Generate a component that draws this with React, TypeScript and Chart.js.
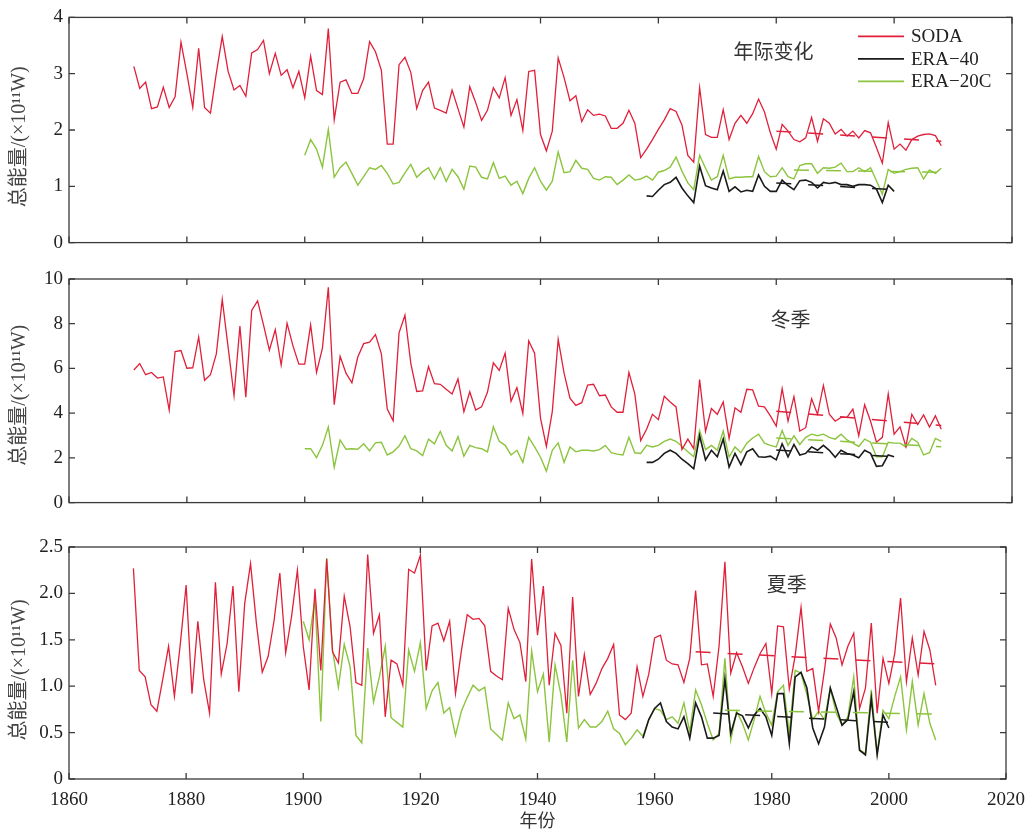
import React, { useEffect, useRef } from 'react';
import { Chart, registerables } from 'chart.js';

Chart.register(...registerables);

// ---------- data ----------
const SODA_START = 1871;
const ERA20C_START = 1900;
const ERA40_START = 1958;

const X_MIN = 1860;
const X_MAX = 2020;
const X_STEP = 20;

const SERIES_NAMES = ['SODA', 'ERA−40', 'ERA−20C'];
const PANEL_LABELS = ['年际变化', '冬季', '夏季'];
const Y_TITLE = '总能量/(×10¹¹W)';
const X_TITLE = '年份';
const Y_MAX = [4, 10, 2.5];
const Y_STEP = [1, 2, 0.5];

const SODA_ANNUAL = [
  3.13, 2.74, 2.85, 2.38, 2.41, 2.76, 2.40, 2.59, 3.56, 3.00,
  2.40, 3.45, 2.40, 2.30, 3.01, 3.66, 3.04, 2.71, 2.79, 2.60,
  3.37, 3.43, 3.59, 3.00, 3.36, 2.97, 3.07, 2.75, 3.04, 2.57,
  3.31, 2.70, 2.63, 3.80, 2.18, 2.85, 2.89, 2.65, 2.65, 2.91,
  3.57, 3.39, 3.06, 1.75, 1.75, 3.16, 3.29, 3.02, 2.38, 2.70,
  2.85, 2.39, 2.35, 2.30, 2.71, 2.38, 2.05, 2.77, 2.49, 2.17,
  2.35, 2.75, 2.57, 2.93, 2.26, 2.54, 1.99, 3.04, 3.06, 1.92,
  1.63, 1.98, 3.28, 2.93, 2.52, 2.61, 2.15, 2.36, 2.26, 2.28,
  2.25, 2.03, 2.03, 2.12, 2.35, 2.12, 1.51, 1.66, 1.83, 2.01,
  2.18, 2.38, 2.33, 2.09, 1.55, 1.43, 2.75, 1.92, 1.87, 1.87,
  2.36, 1.83, 2.12, 2.26, 2.12, 2.29, 2.55, 2.32, 1.95, 1.66,
  2.10, 1.98, 1.83, 1.79, 1.86, 2.22, 1.80, 2.20, 2.12, 1.93,
  2.01, 1.89, 1.98, 1.86, 1.99, 1.95, 1.69, 1.41, 2.13, 1.66,
  1.75, 1.64, 1.83, 1.89, 1.92, 1.93, 1.90, 1.72,
];
const ERA20C_ANNUAL = [
  1.55, 1.83, 1.66, 1.34, 2.01, 1.16, 1.33, 1.43, 1.23, 1.02,
  1.17, 1.33, 1.30, 1.37, 1.23, 1.04, 1.07, 1.24, 1.39, 1.16,
  1.26, 1.33, 1.13, 1.33, 1.09, 1.30, 1.17, 0.95, 1.36, 1.34,
  1.16, 1.13, 1.42, 1.14, 1.18, 1.02, 1.09, 0.87, 1.14, 1.33,
  1.09, 0.93, 1.09, 1.61, 1.24, 1.26, 1.46, 1.32, 1.30, 1.14,
  1.11, 1.17, 1.16, 1.03, 1.11, 1.20, 1.11, 1.13, 1.18, 1.11,
  1.25, 1.28, 1.34, 1.52, 1.27, 1.06, 0.94, 1.55, 1.32, 1.11,
  1.17, 1.55, 1.13, 1.16, 1.16, 1.17, 1.17, 1.53, 1.26, 1.17,
  1.18, 1.33, 1.17, 1.13, 1.37, 1.40, 1.40, 1.23, 1.33, 1.32,
  1.34, 1.41, 1.26, 1.26, 1.33, 1.26, 1.33, 1.10, 0.86, 1.30,
  1.23, 1.26, 1.30, 1.32, 1.33, 1.13, 1.29, 1.23, 1.32,
];
const ERA40_ANNUAL = [
  0.83, 0.82, 0.93, 1.03, 1.07, 1.16, 0.97, 0.83, 0.71, 1.36,
  1.01, 0.97, 0.94, 1.27, 0.91, 0.99, 0.90, 0.93, 0.91, 1.20,
  1.00, 0.91, 0.91, 1.11, 1.01, 0.94, 1.10, 1.11, 1.07, 0.97,
  1.07, 1.05, 1.07, 1.03, 1.03, 1.00, 1.03, 1.03, 1.02, 0.95,
  0.71, 1.02, 0.91,
];

const SODA_WINTER = [
  5.93, 6.22, 5.72, 5.82, 5.57, 5.62, 4.14, 6.75, 6.80, 6.01,
  6.03, 7.41, 5.47, 5.72, 6.65, 9.09, 6.94, 4.78, 7.90, 4.71,
  8.59, 9.02, 7.95, 6.82, 7.73, 6.15, 8.02, 7.01, 6.19, 6.19,
  7.95, 5.82, 6.91, 9.63, 4.38, 6.54, 5.79, 5.36, 6.51, 7.11,
  7.18, 7.51, 6.65, 4.18, 3.66, 7.59, 8.38, 6.22, 4.97, 5.00,
  6.08, 5.32, 5.29, 5.07, 4.86, 5.53, 4.07, 4.96, 4.14, 4.28,
  4.93, 6.25, 5.91, 6.68, 4.53, 5.14, 3.99, 7.23, 6.68, 3.78,
  2.51, 4.07, 7.30, 5.79, 4.67, 4.35, 4.47, 5.26, 5.29, 4.78,
  4.81, 4.28, 4.04, 4.04, 5.82, 4.86, 2.77, 3.28, 3.95, 3.71,
  4.76, 4.50, 4.28, 2.37, 2.84, 2.41, 5.50, 3.18, 4.21, 3.95,
  4.50, 2.87, 4.24, 4.04, 5.07, 5.04, 4.31, 4.28, 3.88, 3.42,
  5.10, 3.64, 4.74, 3.20, 3.35, 4.64, 3.95, 5.24, 3.95, 3.64,
  3.81, 3.81, 4.18, 2.99, 4.38, 3.64, 2.70, 2.92, 4.86, 3.06,
  3.39, 2.51, 3.95, 3.49, 3.92, 3.38, 3.88, 3.28,
];
const ERA20C_WINTER = [
  2.41, 2.41, 2.01, 2.56, 3.38, 1.58, 2.80, 2.39, 2.41, 2.39,
  2.63, 2.31, 2.67, 2.70, 2.13, 2.27, 2.53, 2.99, 2.41, 2.31,
  2.10, 2.84, 2.63, 3.18, 2.56, 2.31, 2.95, 2.08, 2.56, 2.46,
  2.41, 2.27, 3.39, 2.74, 2.56, 2.13, 2.34, 1.80, 2.92, 2.49,
  2.03, 1.41, 2.34, 2.67, 1.80, 2.49, 2.27, 2.34, 2.34, 2.31,
  2.37, 2.56, 2.23, 2.17, 2.13, 2.92, 2.23, 2.20, 2.56, 2.49,
  2.56, 2.74, 2.84, 2.74, 2.51, 2.27, 2.05, 3.23, 2.37, 2.56,
  2.34, 3.20, 2.03, 2.49, 2.23, 2.66, 2.89, 3.06, 2.66, 2.56,
  2.49, 3.23, 2.56, 2.99, 2.60, 2.92, 3.06, 2.99, 3.06, 2.92,
  2.84, 3.06, 2.80, 2.66, 2.51, 2.84, 2.70, 2.05, 2.05, 2.70,
  2.66, 2.66, 2.49, 2.87, 2.70, 2.13, 2.23, 2.87, 2.74,
];
const ERA40_WINTER = [
  1.80, 1.80, 1.94, 2.20, 2.34, 2.20, 1.94, 1.74, 1.51, 2.99,
  1.91, 2.34, 2.05, 2.84, 1.59, 2.20, 1.70, 2.27, 2.41, 2.05,
  2.03, 2.08, 1.91, 2.63, 2.05, 2.60, 2.13, 2.20, 2.49, 2.34,
  2.56, 2.34, 2.03, 2.34, 2.20, 2.13, 2.01, 2.34, 2.20, 1.62,
  1.65, 2.13, 2.05,
];

const SODA_SUMMER = [
  2.27, 1.17, 1.10, 0.80, 0.73, 1.07, 1.43, 0.89, 1.45, 2.09,
  0.92, 1.70, 1.07, 0.71, 2.12, 1.13, 1.46, 2.08, 0.94, 1.89,
  2.32, 1.68, 1.15, 1.32, 1.70, 2.22, 1.36, 1.75, 2.25, 1.43,
  0.96, 2.05, 1.17, 2.37, 1.37, 1.25, 1.97, 1.64, 1.04, 1.01,
  2.42, 1.57, 1.77, 0.67, 1.28, 1.24, 1.01, 2.26, 2.22, 2.41,
  1.17, 1.65, 1.68, 1.49, 1.70, 0.92, 1.38, 1.77, 1.72, 1.73,
  1.65, 1.16, 1.11, 1.07, 1.84, 1.61, 1.47, 1.05, 2.37, 1.55,
  2.08, 1.01, 1.57, 1.44, 0.71, 1.96, 0.89, 1.34, 0.91, 1.03,
  1.19, 1.30, 1.45, 0.69, 0.64, 0.71, 1.21, 0.89, 1.13, 1.52,
  1.55, 1.28, 1.24, 1.23, 1.04, 1.30, 2.03, 1.23, 1.24, 0.89,
  1.43, 2.34, 1.14, 1.36, 1.21, 1.03, 1.20, 1.35, 1.46, 0.92,
  1.65, 1.64, 0.97, 1.33, 1.85, 1.16, 1.19, 0.73, 1.17, 1.67,
  1.52, 1.23, 1.43, 1.57, 0.76, 0.98, 1.68, 0.71, 1.30, 1.03,
  1.35, 1.95, 1.05, 1.52, 1.12, 1.59, 1.39, 1.01,
];
const ERA20C_SUMMER = [
  1.70, 1.50, 1.94, 0.62, 2.38, 1.39, 0.99, 1.45, 1.21, 0.47,
  0.39, 1.41, 0.83, 1.10, 1.43, 0.66, 0.61, 0.56, 1.39, 1.16,
  1.47, 0.76, 0.95, 1.04, 0.71, 0.77, 0.47, 0.73, 0.88, 1.01,
  0.95, 0.99, 0.54, 0.48, 0.42, 0.82, 0.65, 0.69, 0.43, 1.38,
  0.94, 1.13, 0.40, 1.23, 0.91, 0.40, 1.28, 0.55, 0.64, 0.56,
  0.56, 0.62, 0.73, 0.54, 0.49, 0.37, 0.44, 0.53, 0.46, 0.64,
  0.76, 0.74, 0.64, 0.67, 0.60, 0.82, 0.51, 0.96, 0.80, 0.60,
  0.42, 0.49, 1.30, 0.42, 0.73, 0.60, 0.42, 0.64, 0.89, 0.71,
  0.58, 0.94, 1.01, 0.49, 1.17, 1.14, 0.91, 0.64, 0.73, 0.64,
  0.98, 0.71, 0.58, 0.67, 1.10, 0.31, 0.28, 0.96, 0.28, 0.74,
  0.65, 0.89, 1.10, 0.53, 1.05, 0.58, 0.92, 0.60, 0.42,
];
const ERA40_SUMMER = [
  0.44, 0.64, 0.76, 0.82, 0.62, 0.56, 0.54, 0.67, 0.44, 0.82,
  0.67, 0.44, 0.44, 0.47, 1.08, 0.49, 0.71, 0.68, 0.55, 0.69,
  0.76, 0.67, 0.47, 0.92, 0.92, 0.38, 1.10, 1.15, 0.98, 0.55,
  0.38, 0.56, 0.98, 0.78, 0.58, 0.64, 0.94, 0.31, 0.26, 0.87,
  0.26, 0.69, 0.55,
];

// trend lines: [startYear, startValue, endYear, endValue]
const SODA_TREND_ANNUAL = [1980, 1.98, 2008, 1.80];
const ERA20C_TREND_ANNUAL = [1983, 1.29, 2008, 1.25];
const ERA40_TREND_ANNUAL = [1980, 1.06, 2000, 0.94];
const SODA_TREND_WINTER = [1980, 4.09, 2008, 3.45];
const ERA20C_TREND_WINTER = [1980, 2.89, 2008, 2.50];
const ERA40_TREND_WINTER = [1980, 2.35, 2000, 2.05];
const SODA_TREND_SUMMER = [1967, 1.37, 2008, 1.24];
const ERA20C_TREND_SUMMER = [1972, 0.74, 2008, 0.70];
const ERA40_TREND_SUMMER = [1970, 0.71, 2000, 0.61];

// ---------- styles ----------
const RED = '#e0203a';
const BLACK = '#1a1a1a';
const GREEN = '#8cc43e';
const SERIF = "'Liberation Serif', 'Noto Sans CJK SC', serif";
const TEXT = '#222';

const PANEL_DATA = [
  { soda: SODA_ANNUAL, e20: ERA20C_ANNUAL, e40: ERA40_ANNUAL, tS: SODA_TREND_ANNUAL, t20: ERA20C_TREND_ANNUAL, t40: ERA40_TREND_ANNUAL },
  { soda: SODA_WINTER, e20: ERA20C_WINTER, e40: ERA40_WINTER, tS: SODA_TREND_WINTER, t20: ERA20C_TREND_WINTER, t40: ERA40_TREND_WINTER },
  { soda: SODA_SUMMER, e20: ERA20C_SUMMER, e40: ERA40_SUMMER, tS: SODA_TREND_SUMMER, t20: ERA20C_TREND_SUMMER, t40: ERA40_TREND_SUMMER },
];

// layout of each canvas (pixels)
const LAYOUT = [
  { top: 0, h: 260, padTop: 16, xH: 12, lx: 0.747, ly: 0.16, ty: 0.53 },
  { top: 260, h: 260, padTop: 19, xH: 9, lx: 0.765, ly: 0.19, ty: 0.52 },
  { top: 520, h: 315, padTop: 27, xH: 56, lx: 0.766, ly: 0.17, ty: 0.53 },
];

const toPoints = (start: number, values: number[]) => values.map((v, i) => ({ x: start + i, y: v }));
const trendPoints = (t: number[]) => [{ x: t[0], y: t[1] }, { x: t[2], y: t[3] }];

const framePlugin = {
  id: 'frameTicks',
  afterDraw(chart: any) {
    const { ctx, chartArea, scales } = chart;
    const { left, right, top, bottom } = chartArea;
    const L = 6;
    ctx.save();
    ctx.strokeStyle = '#3a3a3a';
    ctx.lineWidth = 1.3;
    ctx.strokeRect(left, top, right - left, bottom - top);
    ctx.beginPath();
    scales.x.ticks.forEach((t: any) => {
      const px = scales.x.getPixelForValue(t.value);
      ctx.moveTo(px, bottom); ctx.lineTo(px, bottom - L);
      ctx.moveTo(px, top); ctx.lineTo(px, top + L);
    });
    scales.y.ticks.forEach((t: any) => {
      const py = scales.y.getPixelForValue(t.value);
      ctx.moveTo(left, py); ctx.lineTo(left + L, py);
      ctx.moveTo(right, py); ctx.lineTo(right - L, py);
    });
    ctx.stroke();
    ctx.restore();
  },
};

const labelPlugin = {
  id: 'panelLabel',
  afterDraw(chart: any, _args: any, opts: any) {
    if (!opts || !opts.text) return;
    const { ctx, chartArea } = chart;
    const { left, right, top, bottom } = chartArea;
    ctx.save();
    ctx.font = `20px ${SERIF}`;
    ctx.fillStyle = '#333';
    ctx.textAlign = 'center';
    ctx.textBaseline = 'middle';
    ctx.fillText(opts.text, left + (right - left) * opts.fx, top + (bottom - top) * opts.fy);
    // rotated y-axis title
    if (opts.yTitle) {
      ctx.save();
      ctx.translate(20, top + (bottom - top) * opts.ty);
      ctx.rotate(-Math.PI / 2);
      ctx.font = `20px ${SERIF}`;
      ctx.fillStyle = '#444';
      ctx.fillText(opts.yTitle, 0, 0);
      ctx.restore();
    }
    ctx.restore();
  },
};

const legendPlugin = {
  id: 'cornerLegend',
  afterDraw(chart: any, _args: any, opts: any) {
    if (!opts || !opts.items) return;
    const { ctx, chartArea } = chart;
    const x0 = chartArea.right - 154;
    const y0 = chartArea.top + 19;
    ctx.save();
    ctx.font = `19px ${SERIF}`;
    ctx.textBaseline = 'middle';
    ctx.textAlign = 'left';
    opts.items.forEach((it: any, i: number) => {
      const y = y0 + i * 22.5;
      ctx.strokeStyle = it.color;
      ctx.lineWidth = 1.6;
      ctx.beginPath();
      ctx.moveTo(x0, y);
      ctx.lineTo(x0 + 46, y);
      ctx.stroke();
      ctx.fillStyle = TEXT;
      ctx.fillText(it.text, x0 + 53, y + 1);
    });
    ctx.restore();
  },
};

function buildConfig(i: number): any {
  const d = PANEL_DATA[i];
  const l = LAYOUT[i];
  const showX = i === 2;
  const lineDs = (label: string, data: any[], color: string, width: number) => ({
    label, data, borderColor: color, borderWidth: width, pointRadius: 0, fill: false, tension: 0,
  });
  const trendDs = (data: any[], color: string) => ({
    label: 'trend', data, borderColor: color, borderWidth: 1.5, pointRadius: 0, fill: false, borderDash: [15, 17],
  });
  return {
    type: 'line',
    data: {
      datasets: [
        trendDs(trendPoints(d.tS), RED),
        trendDs(trendPoints(d.t40), BLACK),
        trendDs(trendPoints(d.t20), GREEN),
        lineDs(SERIES_NAMES[1], toPoints(ERA40_START, d.e40), BLACK, 1.6),
        lineDs(SERIES_NAMES[0], toPoints(SODA_START, d.soda), RED, 1.3),
        lineDs(SERIES_NAMES[2], toPoints(ERA20C_START, d.e20), GREEN, 1.4),
      ],
    },
    options: {
      animation: false,
      responsive: false,
      devicePixelRatio: 1,
      layout: { padding: { top: l.padTop, right: 23, left: 0, bottom: 0 } },
      plugins: {
        legend: { display: false },
        tooltip: { enabled: false },
        panelLabel: { text: PANEL_LABELS[i], fx: l.lx, fy: l.ly, yTitle: Y_TITLE, ty: l.ty },
        cornerLegend: i === 0
          ? { items: [
              { text: SERIES_NAMES[0], color: RED },
              { text: SERIES_NAMES[1], color: BLACK },
              { text: SERIES_NAMES[2], color: GREEN },
            ] }
          : {},
      },
      scales: {
        x: {
          type: 'linear',
          min: X_MIN,
          max: X_MAX,
          ticks: {
            stepSize: X_STEP,
            display: showX,
            autoSkip: false,
            maxRotation: 0,
            padding: 10,
            color: TEXT,
            font: { family: SERIF, size: 19 },
            callback: (v: any) => String(v),
          },
          grid: { display: false, drawTicks: false },
          border: { display: false },
          title: {
            display: showX,
            text: X_TITLE,
            color: '#333',
            font: { family: SERIF, size: 18 },
            padding: { top: 0, bottom: 2 },
          },
          afterFit: (s: any) => { s.height = l.xH; },
        },
        y: {
          type: 'linear',
          min: 0,
          max: Y_MAX[i],
          ticks: {
            stepSize: Y_STEP[i],
            padding: 6,
            color: TEXT,
            font: { family: SERIF, size: 19 },
            callback: (v: any) => (i === 2 ? (v === 0 ? '0' : Number(v).toFixed(1)) : String(v)),
          },
          grid: { display: false, drawTicks: false },
          border: { display: false },
          title: { display: false },
          afterFit: (s: any) => { s.width = 69; },
        },
      },
    },
    plugins: [framePlugin, labelPlugin, legendPlugin],
  };
}

export default function App() {
  const r0 = useRef<HTMLCanvasElement | null>(null);
  const r1 = useRef<HTMLCanvasElement | null>(null);
  const r2 = useRef<HTMLCanvasElement | null>(null);
  const refs = [r0, r1, r2];

  useEffect(() => {
    const charts = refs.map((r, i) => new Chart(r.current as HTMLCanvasElement, buildConfig(i)));
    return () => charts.forEach((c) => c.destroy());
  }, []);

  return (
    <div style={{ position: 'absolute', left: 0, top: 0, width: 1035, height: 835, background: '#fff' }}>
      {LAYOUT.map((l, i) => (
        <canvas
          key={i}
          ref={refs[i]}
          width={1035}
          height={l.h}
          style={{ position: 'absolute', left: 0, top: l.top, width: 1035, height: l.h, display: 'block' }}
        />
      ))}
    </div>
  );
}
